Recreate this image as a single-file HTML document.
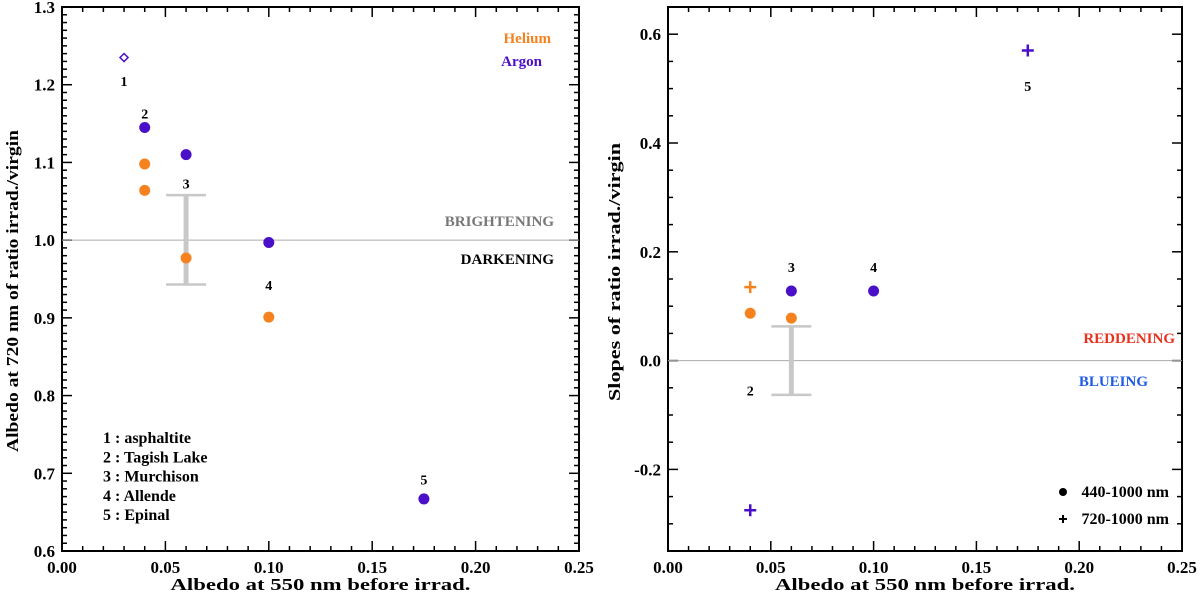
<!DOCTYPE html>
<html><head><meta charset="utf-8">
<style>
html,body{margin:0;padding:0;background:#fff;}
svg{display:block;font-family:"Liberation Serif",serif;font-weight:bold;}
</style></head>
<body>
<svg id="chart" width="1200" height="594" viewBox="0 0 1200 594" xmlns="http://www.w3.org/2000/svg"></svg>
<script>
// ---- Left panel data ----
const leftArgonX = [0.04, 0.06, 0.10, 0.175];
const leftArgonY = [1.145, 1.110, 0.997, 0.667];
const leftDiamondX = [0.03];
const leftDiamondY = [1.235];
const leftHeliumX = [0.04, 0.04, 0.06, 0.10];
const leftHeliumY = [1.098, 1.064, 0.977, 0.901];
const leftErrX = [0.06];
const leftErrLo = [0.943];
const leftErrHi = [1.058];
const leftLabels = ["1", "2", "3", "4", "5"];
const leftLabelX = [0.03, 0.04, 0.06, 0.10, 0.175];
const leftLabelY = [1.205, 1.163, 1.073, 0.942, 0.692];
const leftYTicks = [0.6, 0.7, 0.8, 0.9, 1.0, 1.1, 1.2, 1.3];
const xTicks = [0.00, 0.05, 0.10, 0.15, 0.20, 0.25];
// ---- Right panel data ----
const rightArgonDotX = [0.06, 0.10];
const rightArgonDotY = [0.128, 0.128];
const rightHeliumDotX = [0.04, 0.06];
const rightHeliumDotY = [0.087, 0.078];
const rightHeliumPlusX = [0.04];
const rightHeliumPlusY = [0.135];
const rightArgonPlusX = [0.04, 0.175];
const rightArgonPlusY = [-0.275, 0.570];
const rightErrX = [0.06];
const rightErrLo = [-0.063];
const rightErrHi = [0.063];
const rightLabels = ["2", "3", "4", "5"];
const rightLabelX = [0.04, 0.06, 0.10, 0.175];
const rightLabelY = [-0.055, 0.172, 0.172, 0.505];
const rightYTicks = [-0.2, 0.0, 0.2, 0.4, 0.6];

const NS = "http://www.w3.org/2000/svg";
const svg = document.getElementById("chart");
const ORANGE = "#f5821f", PURPLE = "#4a0fc8", GRAY = "#c8c8c8";
function mk(tag, attrs, parent) {
  const e = document.createElementNS(NS, tag);
  for (const k in attrs) e.setAttribute(k, attrs[k]);
  (parent || svg).appendChild(e);
  return e;
}
function txt(s, x, y, size, fill, anchor, parent) {
  const t = mk("text", {x: x, y: y, "font-size": size, fill: fill, "text-anchor": anchor || "middle"}, parent);
  t.textContent = s;
  return t;
}

function panel(cfg) {
  const g = mk("g", {});
  
  
  const sx = v => cfg.x0 + (v - cfg.xmin) / (cfg.xmax - cfg.xmin) * (cfg.x1 - cfg.x0);
  const sy = v => cfg.y1 - (v - cfg.ymin) / (cfg.ymax - cfg.ymin) * (cfg.y1 - cfg.y0);
  const fr = mk("rect", {x: cfg.x0, y: cfg.y0, width: cfg.x1 - cfg.x0, height: cfg.y1 - cfg.y0, fill: "none", stroke: "#000", "stroke-width": 2}, g);
  
  
  for (let v = cfg.xmin; v <= cfg.xmax + 1e-9; v += 0.01) {
    const major = Math.abs(Math.round(v * 100) % 5) === 0;
    const L = major ? 10 : 5;
    mk("line", {x1: sx(v), x2: sx(v), y1: cfg.y1, y2: cfg.y1 - L, stroke: "#000", "stroke-width": 1.5}, g);
    mk("line", {x1: sx(v), x2: sx(v), y1: cfg.y0, y2: cfg.y0 + L, stroke: "#000", "stroke-width": 1.5}, g);
  }
  xTicks.forEach(v => {
    const t = txt(v.toFixed(2), sx(v), cfg.y1 + 22, 17, "#000", "middle", g);
    
    
  });
  const n = Math.round((cfg.ymax - cfg.ymin) / cfg.yminor);
  for (let i = 0; i <= n; i++) {
    const v = cfg.ymin + i * cfg.yminor;
    const major = cfg.yTicks.some(t => Math.abs(t - v) < 1e-6);
    const L = major ? 10 : 5;
    mk("line", {x1: cfg.x0, x2: cfg.x0 + L, y1: sy(v), y2: sy(v), stroke: "#000", "stroke-width": 1.5}, g);
    mk("line", {x1: cfg.x1, x2: cfg.x1 - L, y1: sy(v), y2: sy(v), stroke: "#000", "stroke-width": 1.5}, g);
  }
  cfg.yTicks.forEach(v => {
    const t = txt(v.toFixed(1), cfg.x0 - 7, sy(v) + 6, 17, "#000", "end", g);
    
    
  });
  const xt = txt("Albedo at 550 nm before irrad.", (cfg.x0 + cfg.x1) / 2, 590, 17, "#000", "middle", g);
  xt.setAttribute("textLength", 300);
  xt.setAttribute("lengthAdjust", "spacingAndGlyphs");
  
  
  const yt = txt(cfg.ytitle, 0, 0, 17, "#000", "middle", g);
  yt.setAttribute("textLength", cfg.ylen);
  yt.setAttribute("lengthAdjust", "spacingAndGlyphs");
  yt.setAttribute("transform", "translate(" + cfg.ytx + "," + cfg.ytc + ") rotate(-90)");
  
  
  const rl = mk("line", {x1: cfg.x0, x2: cfg.x1, y1: sy(cfg.ref), y2: sy(cfg.ref), stroke: "#aaa", "stroke-width": 1}, g);
  
  
  return {g, sx, sy};
}

function errbar(p, xs, lo, hi) {
  xs.forEach((x, i) => {
    const e = mk("g", {}, p.g);
    
    
    mk("line", {x1: p.sx(x), x2: p.sx(x), y1: p.sy(lo[i]), y2: p.sy(hi[i]), stroke: GRAY, "stroke-width": 5}, e);
    mk("line", {x1: p.sx(x) - 20, x2: p.sx(x) + 20, y1: p.sy(lo[i]), y2: p.sy(lo[i]), stroke: GRAY, "stroke-width": 2.5}, e);
    mk("line", {x1: p.sx(x) - 20, x2: p.sx(x) + 20, y1: p.sy(hi[i]), y2: p.sy(hi[i]), stroke: GRAY, "stroke-width": 2.5}, e);
  });
}
function dots(p, xs, ys, color, name) {
  xs.forEach((x, i) => {
    const c = mk("circle", {cx: p.sx(x), cy: p.sy(ys[i]), r: 5.5, fill: color}, p.g);
    
    
  });
}
function pluses(p, xs, ys, color, name) {
  xs.forEach((x, i) => {
    const X = p.sx(x), Y = p.sy(ys[i]);
    const c = mk("path", {d: "M" + (X - 6) + " " + Y + "H" + (X + 6) + "M" + X + " " + (Y - 6) + "V" + (Y + 6), stroke: color, "stroke-width": 2.5}, p.g);
    
    
  });
}
function labels(p, ls, xs, ys) {
  ls.forEach((s, i) => {
    const t = txt(s, p.sx(xs[i]), p.sy(ys[i]) + 5, 14, "#000", "middle", p.g);
    
    
  });
}

// Left panel
const L = panel({name: "left-panel", x0: 62, x1: 579, y0: 7, y1: 551, xmin: 0, xmax: 0.25, ymin: 0.6, ymax: 1.3, yminor: 0.01, yTicks: leftYTicks, ytitle: "Albedo at 720 nm of ratio irrad./virgin", ytx: 18, ytc: 291, ylen: 322, ref: 1.0});
errbar(L, leftErrX, leftErrLo, leftErrHi);
dots(L, leftHeliumX, leftHeliumY, ORANGE, "helium-point");
dots(L, leftArgonX, leftArgonY, PURPLE, "argon-point");
leftDiamondX.forEach((x, i) => {
  const X = L.sx(x), Y = L.sy(leftDiamondY[i]);
  const d = mk("path", {d: "M" + X + " " + (Y - 4) + "L" + (X + 4) + " " + Y + "L" + X + " " + (Y + 4) + "L" + (X - 4) + " " + Y + "Z", fill: "none", stroke: PURPLE, "stroke-width": 1.5}, L.g);
  
  
});
labels(L, leftLabels, leftLabelX, leftLabelY);
[["Helium", 551, 43, ORANGE, "legend-helium"], ["Argon", 542, 66, PURPLE, "legend-argon"],
 ["BRIGHTENING", 554, 226, "#777", "brightening-label"], ["DARKENING", 554, 264, "#000", "darkening-label"]].forEach(a => {
  const t = txt(a[0], a[1], a[2], 15, a[3], "end", L.g);
  
  
});
["1 : asphaltite", "2 : Tagish Lake", "3 : Murchison", "4 : Allende", "5 : Epinal"].forEach((s, i) => {
  const t = txt(s, 103, 443 + i * 19.3, 16, "#000", "start", L.g);
  
  
});

// Right panel
const R = panel({name: "right-panel", x0: 668, x1: 1182, y0: 7, y1: 551, xmin: 0, xmax: 0.25, ymin: -0.35, ymax: 0.65, yminor: 0.05, yTicks: rightYTicks, ytitle: "Slopes of ratio irrad./virgin", ytx: 620, ytc: 272, ylen: 258, ref: 0.0});
errbar(R, rightErrX, rightErrLo, rightErrHi);
dots(R, rightHeliumDotX, rightHeliumDotY, ORANGE, "helium-point");
dots(R, rightArgonDotX, rightArgonDotY, PURPLE, "argon-point");
pluses(R, rightHeliumPlusX, rightHeliumPlusY, ORANGE, "helium-plus-point");
pluses(R, rightArgonPlusX, rightArgonPlusY, PURPLE, "argon-plus-point");
labels(R, rightLabels, rightLabelX, rightLabelY);
[["REDDENING", 1175, 343, "#e8321e", "reddening-label"], ["BLUEING", 1148, 386, "#1e5ae6", "blueing-label"],
 ["440-1000 nm", 1169, 497, "#000", "legend-440-1000"], ["720-1000 nm", 1169, 524, "#000", "legend-720-1000"]].forEach(a => {
  const t = txt(a[0], a[1], a[2], a[4].startsWith("legend") ? 16 : 15, a[3], "end", R.g);
  
  
});
const lc = mk("circle", {cx: 1063, cy: 492, r: 4, fill: "#000"}, R.g);


const lp = mk("path", {d: "M1059 519H1067M1063 515V523", stroke: "#000", "stroke-width": 2}, R.g);


</script>
</body></html>
